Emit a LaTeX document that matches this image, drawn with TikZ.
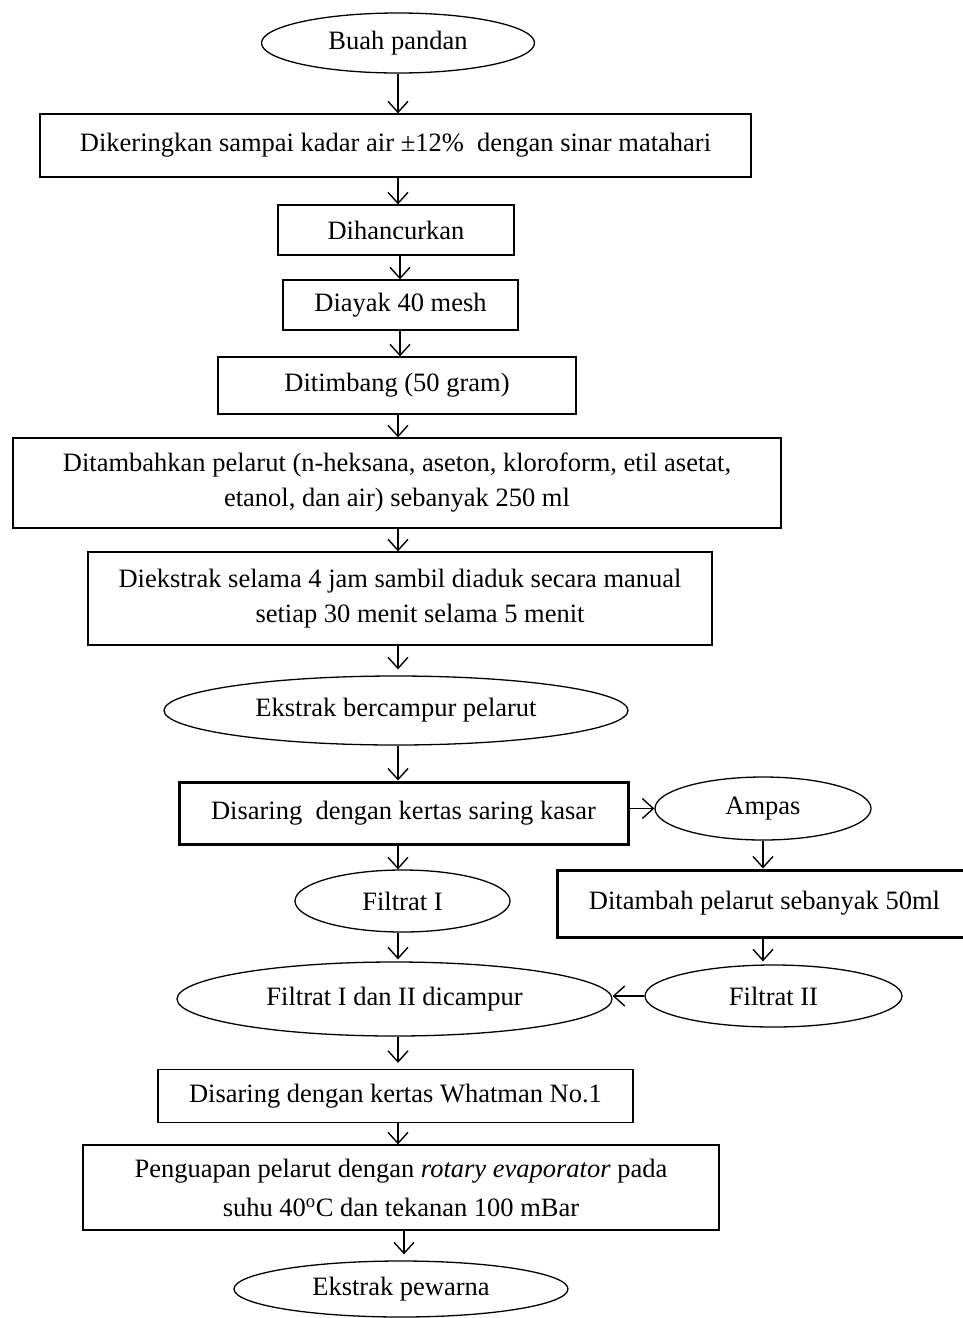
\documentclass[tikz,border=0pt]{standalone}
\usepackage{fontspec}
\setmainfont{Liberation Serif}
\usetikzlibrary{shapes.geometric,arrows.meta}
\begin{document}
\begin{tikzpicture}[x=1pt,y=-1pt,
  every node/.style={inner sep=0pt,align=center,font=\fontsize{26.5}{35}\selectfont},
  box/.style={draw,line width=1.3pt,rectangle},
  thickbox/.style={draw,line width=3pt,rectangle},
  oval/.style={draw,line width=1.3pt,ellipse},
  arr/.style={line width=1.4pt,-{Straight Barb[length=11pt,width=20pt,line width=1.4pt]}}]
\useasboundingbox (0,0) rectangle (962,1318);
\node[oval,minimum width=273,minimum height=60] (n1) at (398,43) {Buah pandan};
\node[box,minimum width=711,minimum height=63] (n2) at (395.5,145.5) {Dikeringkan sampai kadar air ±12\%\ \ dengan sinar matahari};
\node[box,minimum width=236,minimum height=50] (n3) at (396,230) {Dihancurkan};
\node[box,minimum width=235,minimum height=50] (n4) at (400.5,305) {Diayak 40 mesh};
\node[box,minimum width=358,minimum height=57] (n5) at (397,385.5) {Ditimbang (50 gram)};
\node[box,minimum width=768,minimum height=90] (n6) at (397,483) {Ditambahkan pelarut (n-heksana, aseton, kloroform, etil asetat,\\etanol, dan air) sebanyak 250 ml};
\node[box,minimum width=624,minimum height=93] (n7) at (400,598.5) {Diekstrak selama 4 jam sambil diaduk secara manual\\\hspace*{40pt}setiap 30 menit selama 5 menit};
\node[oval,minimum width=464,minimum height=69] (n8) at (396,710.5) {Ekstrak bercampur pelarut};
\node[thickbox,minimum width=449,minimum height=62] (n9) at (403.5,813) {Disaring\ \ dengan kertas saring kasar};
\node[oval,minimum width=216,minimum height=63] (n10) at (763,808.5) {Ampas};
\node[thickbox,minimum width=409,minimum height=67] (n11) at (761.5,903.5) {\hspace*{6pt}Ditambah pelarut sebanyak 50ml};
\node[oval,minimum width=215,minimum height=62] (n12) at (402.5,901) {Filtrat I};
\node[oval,minimum width=435,minimum height=74] (n14) at (394.5,999) {Filtrat I dan II dicampur};
\node[oval,minimum width=257,minimum height=62] (n13) at (773.5,996) {Filtrat II};
\node[box,minimum width=475,minimum height=53] (n15) at (395.5,1096) {Disaring dengan kertas Whatman No.1};
\node[box,minimum width=636,minimum height=85] (n16) at (401,1187.5) {Penguapan pelarut dengan \textit{rotary evaporator} pada\\[4pt]suhu 40\textsuperscript{o}C dan tekanan 100 mBar};
\node[oval,minimum width=334,minimum height=56] (n17) at (401,1289) {Ekstrak pewarna};
\draw[arr] (n1.south -| 398,0) -- (n2.north -| 398,0);
\draw[arr] (n2.south -| 398,0) -- (n3.north -| 398,0);
\draw[arr] (n3.south -| 400,0) -- (n4.north -| 400,0);
\draw[arr] (n4.south -| 400,0) -- (n5.north -| 400,0);
\draw[arr] (n5.south -| 398,0) -- (n6.north -| 398,0);
\draw[arr] (n6.south -| 398,0) -- (n7.north -| 398,0);
\draw[arr,shorten >=6pt] (n7.south -| 398,0) -- (n8.north -| 398,0);
\draw[arr] (n8.south -| 398,0) -- (n9.north -| 398,0);
\draw[arr] (n10.west -| n9.east) -- (n10.west);
\draw[arr] (n10.south) -- (n10.south |- n11.north);
\draw[arr,shorten >=3pt] (n11.south -| n10.south) -- (n13.north -| n10.south);
\draw[arr] (n9.south -| 398,0) -- (n12.north -| 398,0);
\draw[arr,shorten >=2pt] (n12.south -| 398,0) -- (n14.north -| 398,0);
\draw[arr] (n13.west) -- (n13.west -| n14.east);
\draw[arr,shorten >=6pt] (n14.south -| 398,0) -- (n15.north -| 398,0);
\draw[arr] (n15.south -| 398,0) -- (n16.north -| 398,0);
\draw[arr,shorten >=6pt] (n16.south -| 404,0) -- (n17.north -| 404,0);
\end{tikzpicture}
\end{document}
